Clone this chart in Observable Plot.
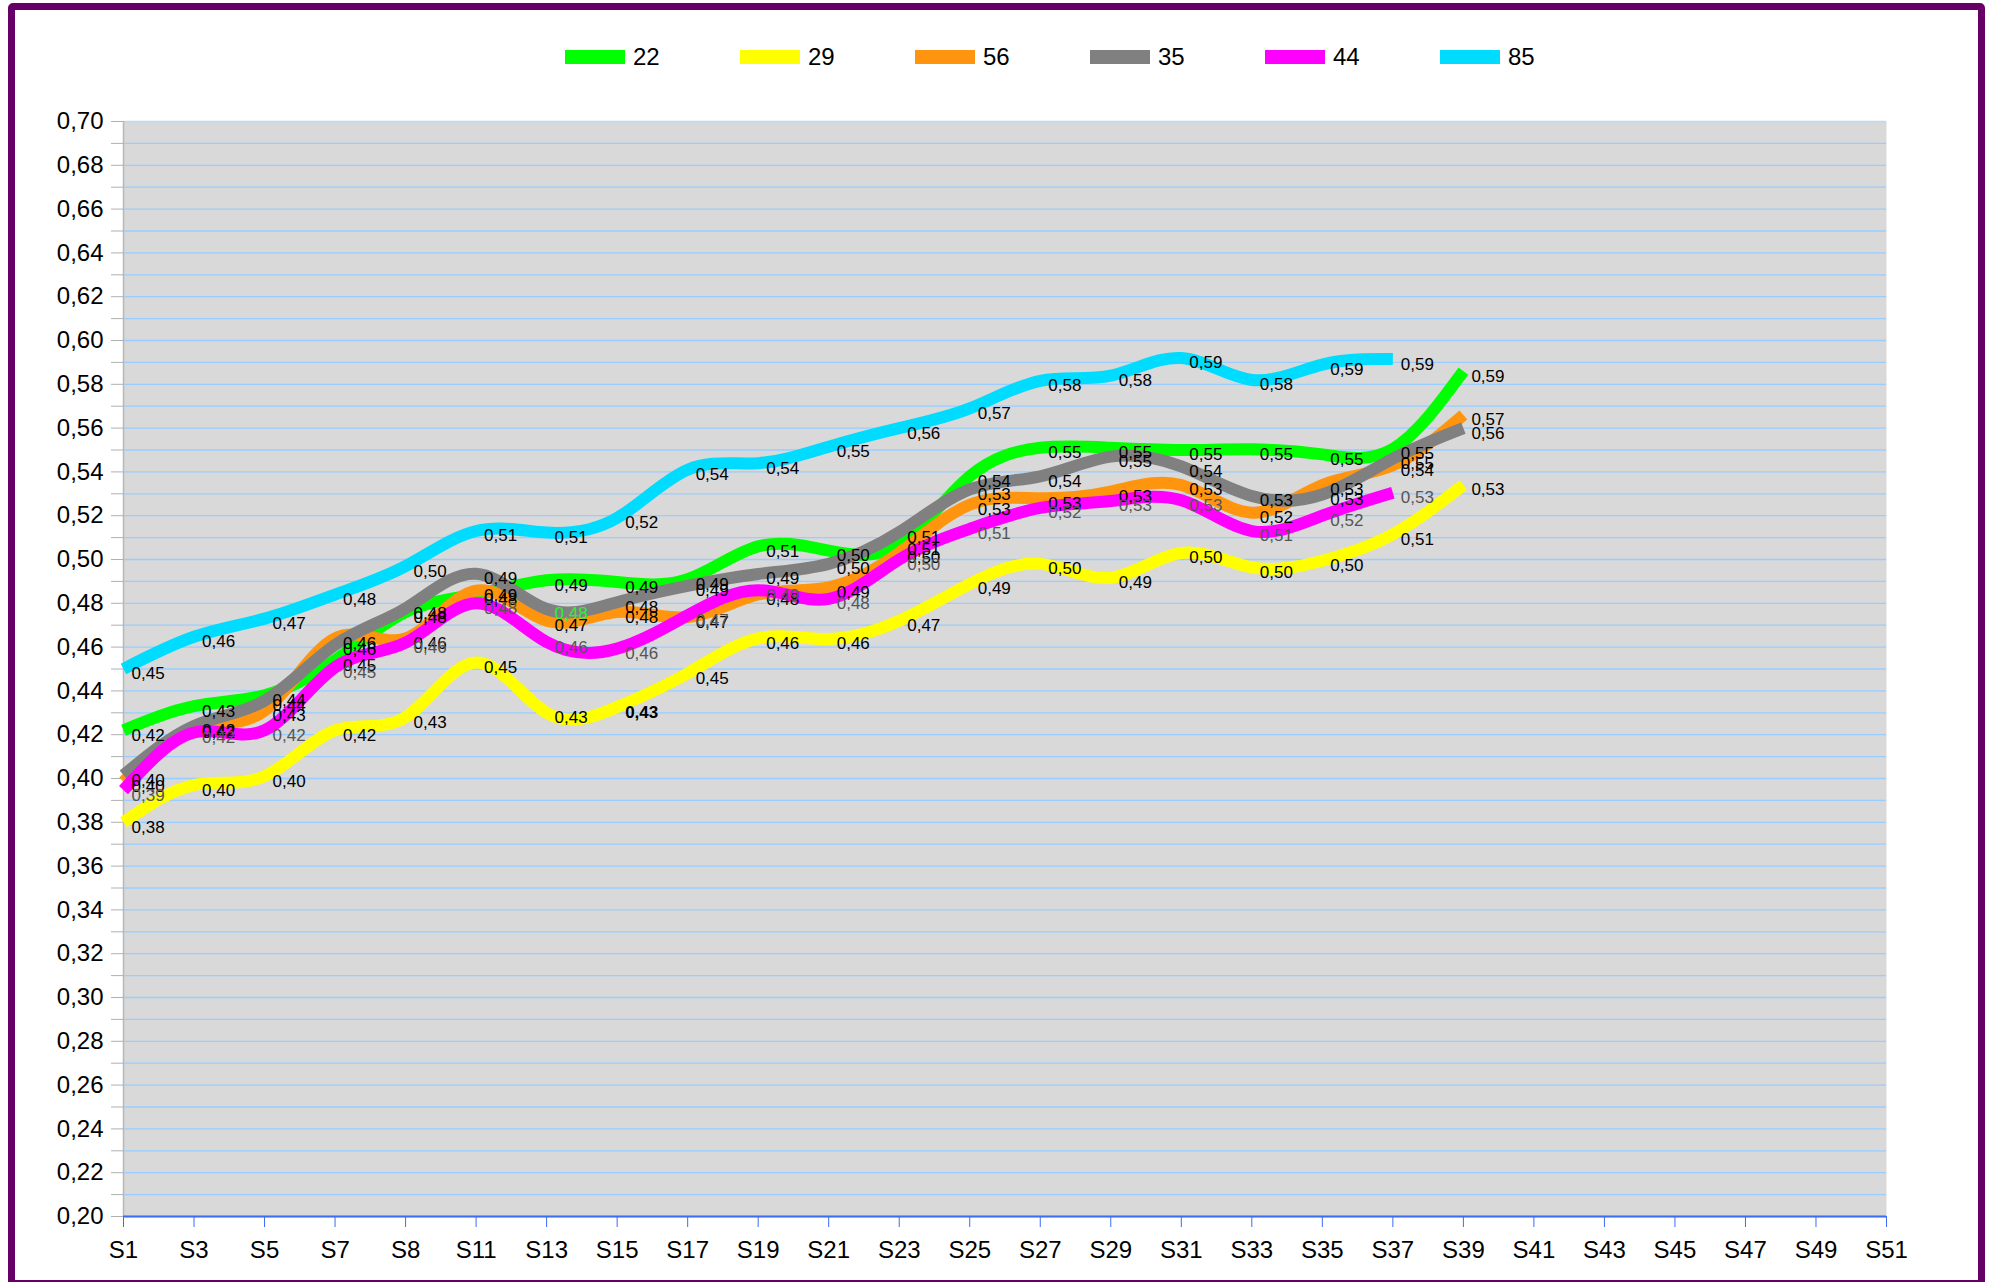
<!DOCTYPE html>
<html>
<head>
<meta charset="utf-8">
<script src="https://cdn.jsdelivr.net/npm/d3@7"></script>
<script src="https://cdn.jsdelivr.net/npm/@observablehq/plot@0.6"></script>
<style>
  html, body { margin: 0; padding: 0; background: #ffffff; width: 1989px; height: 1282px; overflow: hidden; font-family: "Liberation Sans", Arial, sans-serif; }
  #frame { position: absolute; left: 8px; top: 3px; width: 1977px; height: 1284px; box-sizing: border-box; border: 7px solid #660066; border-radius: 5px; pointer-events: none; z-index: 5; }
  #legend { position: absolute; left: 0; top: 0; width: 1989px; height: 90px; }
  .item { position: absolute; top: 43px; height: 28px; display: flex; align-items: center; }
  .sw { width: 60px; height: 14px; margin-right: 8px; }
  .lb { font-size: 24px; color: #000; line-height: 28px; }
  #chart { position: absolute; left: 0; top: 90px; }
</style>
</head>
<body>
<div id="legend"></div>
<div id="chart"></div>
<div id="frame"></div>
<script>
// ---- data ----
const categories = ["S1","S3","S5","S7","S8","S11","S13","S15","S17","S19","S21","S23","S25","S27","S29","S31","S33","S35","S37","S39","S41","S43","S45","S47","S49","S51"];
const seriesNames = ["22","29","56","35","44","85"];
const seriesColors = ["#00ff00","#ffff00","#ff950e","#808080","#ff00ff","#00dcff"];

const s22 = [0.422,0.433,0.438,0.454,0.476,0.484,0.4905,0.4897,0.491,0.506,0.504,0.507,0.538,0.551,0.551,0.550,0.5503,0.548,0.5505,0.586];
const s29 = [0.380,0.397,0.401,0.422,0.428,0.453,0.430,0.4326,0.448,0.464,0.4637,0.472,0.4888,0.498,0.4917,0.503,0.4964,0.4994,0.5115,0.534];
const s56 = [0.3985,0.4233,0.431,0.464,0.464,0.4858,0.472,0.476,0.4737,0.484,0.4873,0.503,0.525,0.528,0.531,0.534,0.5214,0.534,0.543,0.566];
const s35 = [0.4015,0.424,0.4355,0.461,0.4777,0.4935,0.4774,0.4805,0.488,0.4934,0.498,0.5125,0.532,0.538,0.547,0.5425,0.529,0.5297,0.546,0.560];
const s44 = [0.3947,0.421,0.422,0.4508,0.462,0.480,0.4623,0.4593,0.4745,0.486,0.482,0.500,0.514,0.5236,0.5267,0.527,0.513,0.520,0.5305];
const s85 = [0.450,0.4647,0.473,0.484,0.497,0.513,0.5123,0.519,0.541,0.544,0.5515,0.560,0.569,0.5816,0.584,0.592,0.582,0.589,0.5915];

const seriesValues = [s22, s29, s56, s35, s44, s85];
const yGrid = d3.range(20, 71).map(v => v / 100);
const yLabels = d3.range(20, 71, 2).map(v => v / 100);

// ---- table ----
const rows = seriesNames.flatMap((name, si) =>
  seriesValues[si].map((v, i) => ({series: name, cat: categories[i], value: v, idx: i}))
);
const fmt = v => d3.format(".2f")(v).replace(".", ",");

// label styling quirks of the original
const isGreyLabel = d => d.series === "44";
const isGreenLabel = d => d.series === "35" && d.cat === "S13";
const isBoldLabel = d => d.series === "29" && d.cat === "S15";
const plainLabels = rows.filter(d => !isGreyLabel(d) && !isGreenLabel(d) && !isBoldLabel(d));

// ---- legend ----
const legend = document.getElementById("legend");
seriesNames.forEach((name, i) => {
  const it = document.createElement("div");
  it.className = "item";
  it.style.left = (565 + i * 175) + "px";
  it.innerHTML = `<div class="sw" style="background:${seriesColors[i]}"></div><span class="lb">${name}</span>`;
  legend.appendChild(it);
});

// ---- chart ----
const textOpts = {x: "cat", y: "value", text: d => fmt(d.value), dx: 8, dy: 5, textAnchor: "start", fontSize: 17};

const chart = Plot.plot({
  width: 1989,
  height: 1192,
  marginTop: 31,
  marginBottom: 66,
  marginLeft: 123,
  marginRight: 103,
  style: {fontFamily: "Liberation Sans, Arial, sans-serif", background: "transparent", color: "#000"},
  x: {type: "point", domain: categories, padding: 0, round: false, label: null},
  y: {domain: [0.20, 0.70], label: null},
  color: {domain: seriesNames, range: seriesColors},
  marks: [
    Plot.frame({fill: "#d9d9d9", stroke: null}),
    Plot.ruleY(yGrid, {stroke: d => d === 0.70 ? "#b8dcf8" : "#99ccff", strokeWidth: 1.3}),
    Plot.ruleX([categories[0]], {y1: 0.20, y2: 0.70, stroke: "#b8b8b8", strokeWidth: 1.5}),
    Plot.axisY({ticks: yGrid, tickSize: 12, tickFormat: () => "", stroke: "#b0b0b0"}),
    Plot.axisY({ticks: yLabels, tickSize: 0, tickPadding: 20, tickFormat: fmt, fontSize: 24, fill: "#000"}),
    Plot.axisX({tickSize: 11, tickPadding: 13, stroke: "#3d6cf5", fontSize: 24, fill: "#000"}),
    Plot.ruleY([0.20], {stroke: "#3d6cf5", strokeWidth: 2}),
    Plot.line(rows, {x: "cat", y: "value", z: "series", stroke: "series", strokeWidth: 12, curve: "natural", strokeLinecap: "butt", strokeLinejoin: "round"}),
    Plot.text(plainLabels, {...textOpts, fill: "#000"}),
    Plot.text(rows.filter(isGreyLabel), {...textOpts, fill: "#555555"}),
    Plot.text(rows.filter(isGreenLabel), {...textOpts, fill: "#33ee33"}),
    Plot.text(rows.filter(isBoldLabel), {...textOpts, fill: "#000", fontWeight: "bold"})
  ]
});
document.getElementById("chart").appendChild(chart);
</script>
</body>
</html>
